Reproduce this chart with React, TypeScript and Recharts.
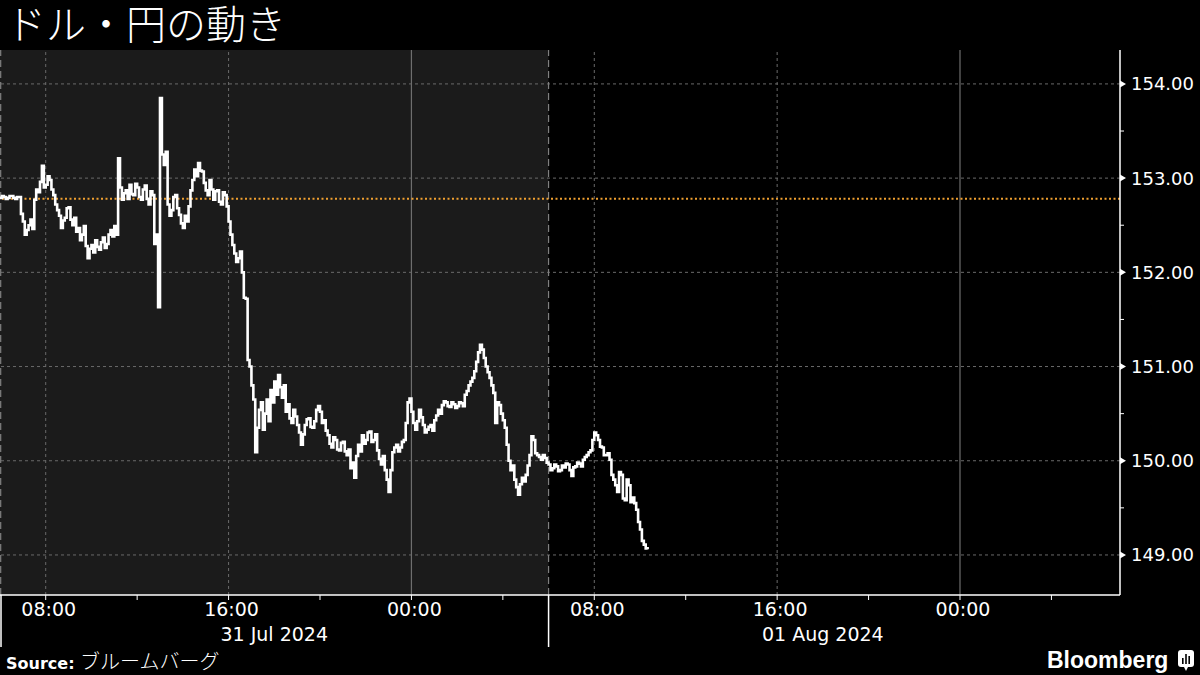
import React from "react";
import {
  ComposedChart,
  Line,
  XAxis,
  YAxis,
  ReferenceLine,
  ReferenceArea,
} from "recharts";

// Hours since 06:00 on 31 Jul 2024, 5-minute samples
const START_LABEL = "31 Jul 2024 06:00";
const STEP_HOURS = 1 / 12;

const usdjpy: number[] = [
  152.79, 152.81, 152.8, 152.78, 152.79, 152.81, 152.81, 152.79, 152.78, 152.8,
  152.8, 152.62, 152.54, 152.4, 152.45, 152.5, 152.56, 152.46, 152.77, 152.88,
  152.85, 152.96, 153.13, 152.9, 152.93, 153.02, 152.98, 152.88, 152.82, 152.72,
  152.66, 152.6, 152.47, 152.55, 152.58, 152.68, 152.69, 152.56, 152.5, 152.58,
  152.43, 152.47, 152.34, 152.4, 152.49, 152.28, 152.15, 152.25, 152.29, 152.21,
  152.34, 152.27, 152.24, 152.32, 152.37, 152.26, 152.3, 152.4, 152.45, 152.38,
  152.49, 152.4, 153.21, 152.9, 152.77, 152.84, 152.87, 152.78, 152.93, 152.83,
  152.82, 152.94, 152.9, 152.8, 152.77, 152.88, 152.92, 152.78, 152.72, 152.86,
  152.82, 152.3, 152.4, 151.63, 153.85, 153.25, 153.14, 153.28, 152.72, 152.6,
  152.66, 152.8, 152.82, 152.68, 152.61, 152.52, 152.47, 152.6, 152.54, 152.7,
  152.87, 152.98, 153.09, 153.02, 153.16, 153.08, 153.07, 152.95, 152.87, 152.82,
  152.98, 152.88, 152.77, 152.86, 152.87, 152.75, 152.72, 152.85, 152.82, 152.7,
  152.54, 152.4, 152.29, 152.2, 152.11, 152.15, 152.22, 152.0, 151.73, 151.72,
  151.07, 151.0, 150.8, 150.65, 150.09, 150.35, 150.54, 150.62, 150.33, 150.5,
  150.65, 150.42, 150.75, 150.62, 150.84, 150.7, 150.91, 150.78, 150.67, 150.8,
  150.52, 150.6, 150.45, 150.4, 150.54, 150.47, 150.38, 150.3, 150.17, 150.28,
  150.38, 150.44, 150.45, 150.36, 150.35, 150.42, 150.54, 150.58, 150.52, 150.4,
  150.43, 150.32, 150.27, 150.18, 150.14, 150.25, 150.22, 150.12, 150.11, 150.19,
  150.2, 150.1, 150.06, 150.12, 149.92, 149.98, 149.82, 150.05, 150.17, 150.1,
  150.27, 150.18, 150.22, 150.3, 150.31, 150.2, 150.22, 150.28, 150.11, 150.02,
  149.96, 150.05, 149.9, 149.8, 149.67, 149.9, 150.09, 150.14, 150.17, 150.1,
  150.14, 150.2, 150.22, 150.4, 150.62, 150.66, 150.52, 150.4, 150.33, 150.42,
  150.54, 150.46, 150.38, 150.3, 150.33, 150.36, 150.38, 150.32, 150.43, 150.48,
  150.54, 150.5, 150.59, 150.63, 150.62, 150.58, 150.57, 150.62, 150.6, 150.56,
  150.58, 150.62, 150.61, 150.58, 150.7, 150.74, 150.8, 150.84, 150.88, 150.95,
  151.05, 151.15, 151.23, 151.18, 151.09, 151.0, 150.94, 150.88, 150.8, 150.72,
  150.4, 150.62, 150.59, 150.5, 150.43, 150.35, 150.17, 150.0, 149.9, 149.95,
  149.8, 149.72, 149.64, 149.75, 149.82, 149.78, 149.85, 149.95, 150.06, 150.26,
  150.22, 150.08, 150.06, 150.04, 150.01, 150.06, 150.03, 149.98, 149.96, 149.9,
  149.92, 149.96, 149.94, 149.89, 149.9, 149.95, 149.93, 149.97, 149.96, 149.9,
  149.84, 149.93, 149.94, 149.98, 149.97, 149.94, 150.01, 150.04, 150.06, 150.09,
  150.11, 150.22, 150.3, 150.27, 150.22, 150.15, 150.14, 150.06, 150.06, 150.08,
  150.01, 149.85, 149.8, 149.74, 149.67, 149.88, 149.85, 149.6, 149.58, 149.8,
  149.74, 149.56, 149.61, 149.55, 149.48, 149.35, 149.27, 149.15, 149.11, 149.07,
  149.06,
];

const prevClose = 152.78;

const xMajorTicks = [2, 10, 18, 26, 34, 42];
const xMajorLabels = ["08:00", "16:00", "00:00", "08:00", "16:00", "00:00"];
const xMinorTicks = [6, 14, 22, 30, 38, 46];
const dayBoundaries = [0, 24];
const dateTicks = [12, 36];
const dateLabels = ["31 Jul 2024", "01 Aug 2024"];
const midnightLines = [18, 42];
const dashedVLines = [2, 10, 26, 34];

const yMajorTicks = [149, 150, 151, 152, 153, 154];
const yMinorTicks = [149.5, 150.5, 151.5, 152.5, 153.5];

const X_DOMAIN: [number, number] = [0, 49];
const Y_DOMAIN: [number, number] = [148.575, 154.36];

const data = usdjpy.map((p, i) => ({ h: i * STEP_HOURS, price: p }));

const TICK_FONT = "'DejaVu Sans', sans-serif";

const XTick = (props: any) => {
  const { x, y, payload } = props;
  const v = payload.value;
  const mi = xMajorTicks.indexOf(v);
  if (mi >= 0) {
    return (
      <g>
        <line x1={x} y1={y} x2={x} y2={y + 5} stroke="#fff" strokeWidth={1} />
        <text
          x={x + 3}
          y={y + 21}
          fill="#fff"
          fontSize={19}
          fontFamily={TICK_FONT}
          textAnchor="middle"
        >
          {xMajorLabels[mi]}
        </text>
      </g>
    );
  }
  if (xMinorTicks.indexOf(v) >= 0) {
    return <line x1={x} y1={y} x2={x} y2={y + 5} stroke="#fff" strokeWidth={1} />;
  }
  if (dayBoundaries.indexOf(v) >= 0) {
    const xx = x + (v === 0 ? 1 : 0);
    return <line x1={xx} y1={y} x2={xx} y2={y + 52} stroke="#fff" strokeWidth={1.5} />;
  }
  const di = dateTicks.indexOf(v);
  if (di >= 0) {
    return (
      <text
        x={x}
        y={y + 46}
        fill="#fff"
        fontSize={19}
        fontFamily={TICK_FONT}
        textAnchor="middle"
      >
        {dateLabels[di]}
      </text>
    );
  }
  return null;
};

const YTick = (props: any) => {
  const { x, y, payload } = props;
  const v = payload.value;
  if (yMajorTicks.indexOf(v) >= 0) {
    return (
      <g>
        <polygon points={`${x},${y - 3.5} ${x + 6},${y} ${x},${y + 3.5}`} fill="#fff" />
        <text
          x={x + 11}
          y={y + 6.5}
          fill="#fff"
          fontSize={18}
          fontFamily={TICK_FONT}
          textAnchor="start"
        >
          {v.toFixed(2)}
        </text>
      </g>
    );
  }
  return <line x1={x} y1={y} x2={x + 4} y2={y} stroke="#fff" strokeWidth={1} />;
};

export default function App() {
  return (
    <div
      style={{
        position: "absolute",
        left: 0,
        top: 0,
        width: 1200,
        height: 675,
        background: "#000",
        overflow: "hidden",
      }}
    >
      <ComposedChart
        width={1200}
        height={675}
        data={data}
        margin={{ top: 50, right: 0, bottom: 0, left: 0 }}
      >
        <ReferenceArea
          x1={0}
          x2={24}
          y1={Y_DOMAIN[0]}
          y2={Y_DOMAIN[1]}
          fill="#1b1b1b"
          fillOpacity={1}
          stroke="none"
          ifOverflow="hidden"
        />
        {yMajorTicks.map((v) => (
          <ReferenceLine key={"hy" + v} y={v} stroke="#6a6a6a" strokeDasharray="3 3" strokeWidth={1} />
        ))}
        {dashedVLines.map((v) => (
          <ReferenceLine key={"dv" + v} x={v} stroke="#6a6a6a" strokeDasharray="3 3" strokeWidth={1} />
        ))}
        {midnightLines.map((v) => (
          <ReferenceLine key={"mv" + v} x={v} stroke="#6e6e6e" strokeWidth={1.2} />
        ))}
        {dayBoundaries.map((v) => (
          <ReferenceLine key={"bv" + v} x={v + (v === 0 ? 0.03 : 0)} stroke="#808080" strokeDasharray="7 4" strokeWidth={1.2} />
        ))}
        <ReferenceLine y={prevClose} stroke="#f0a030" strokeDasharray="2 2.5" strokeWidth={2} />
        <XAxis
          type="number"
          dataKey="h"
          domain={X_DOMAIN}
          allowDataOverflow
          ticks={[...dayBoundaries, ...xMajorTicks, ...xMinorTicks, ...dateTicks].sort((a, b) => a - b)}
          interval={0}
          tick={<XTick />}
          tickLine={false}
          tickSize={0}
          tickMargin={0}
          axisLine={{ stroke: "#fff", strokeWidth: 1.5 }}
          height={80}
        />
        <YAxis
          type="number"
          orientation="right"
          domain={Y_DOMAIN}
          allowDataOverflow
          ticks={[...yMajorTicks, ...yMinorTicks].sort((a, b) => a - b)}
          interval={0}
          tick={<YTick />}
          tickLine={false}
          tickSize={0}
          tickMargin={0}
          axisLine={{ stroke: "#fff", strokeWidth: 1.5 }}
          width={80}
        />
        <Line
          type="stepAfter"
          dataKey="price"
          name={START_LABEL}
          stroke="#ffffff"
          strokeWidth={2.6}
          dot={false}
          activeDot={false}
          isAnimationActive={false}
        />
      </ComposedChart>
      <svg
        style={{ position: "absolute", left: 0, top: 0 }}
        width={320}
        height={50}
      >
        <text
          x={6}
          y={39}
          fill="#fff"
          fontSize={40}
          fontWeight={300}
          fontFamily="'Noto Sans CJK JP', sans-serif"
        >
          ドル・円の動き
        </text>
      </svg>
      <div
        style={{
          position: "absolute",
          left: 6,
          top: 649,
          color: "#fff",
          fontSize: 16,
          lineHeight: "24px",
          whiteSpace: "nowrap",
        }}
      >
        <span style={{ fontFamily: "'DejaVu Sans', sans-serif", fontWeight: 700 }}>Source: </span>
        <span style={{ fontFamily: "'Noto Sans CJK JP', sans-serif", fontWeight: 300, fontSize: 20 }}>
          ブルームバーグ
        </span>
      </div>
      <div
        style={{
          position: "absolute",
          left: 1047,
          top: 646,
          color: "#fff",
          fontFamily: "'Liberation Sans', Arial, sans-serif",
          fontWeight: 700,
          fontSize: 23,
          lineHeight: "28px",
          whiteSpace: "nowrap",
        }}
      >
        Bloomberg
      </div>
      <svg
        style={{ position: "absolute", left: 1177, top: 649 }}
        width={18}
        height={24}
        viewBox="0 0 18 24"
      >
        <rect x={1} y={1} width={16} height={17} rx={3} fill="#fff" />
        <polygon points="7,18 11,18 9,22" fill="#fff" />
        <rect x={5} y={9} width={1.6} height={6} fill="#000" />
        <rect x={8.2} y={5} width={1.6} height={10} fill="#000" />
        <rect x={11.4} y={7} width={1.6} height={8} fill="#000" />
      </svg>
    </div>
  );
}
